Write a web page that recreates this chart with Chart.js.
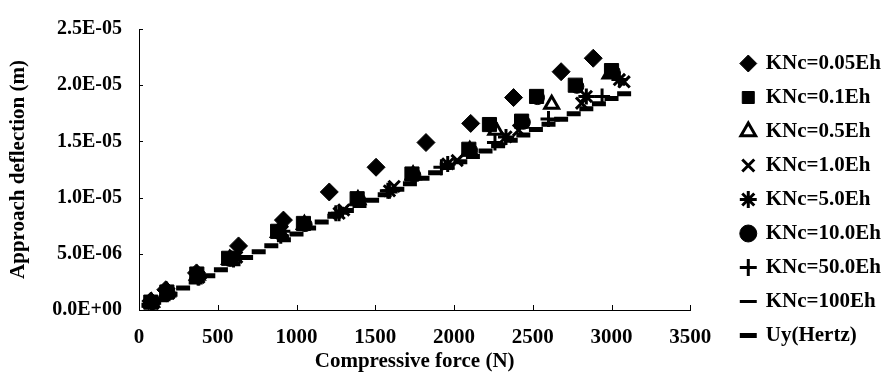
<!DOCTYPE html>
<html>
<head>
<meta charset="utf-8">
<script src="https://cdn.jsdelivr.net/npm/chart.js@4/dist/chart.umd.min.js"></script>
<style>
  html, body { margin: 0; padding: 0; background: #fff; }
  #wrap { width: 887px; height: 387px; position: relative; }
</style>
</head>
<body>
<div id="wrap"><canvas id="c" width="887" height="387"></canvas></div>
<script>
// ---- data (force in N, deflection in m) ----
const seriesNames = ['KNc=0.05Eh', 'KNc=0.1Eh', 'KNc=0.5Eh', 'KNc=1.0Eh', 'KNc=5.0Eh',
                     'KNc=10.0Eh', 'KNc=50.0Eh', 'KNc=100Eh', 'Uy(Hertz)'];

const force005 = [75, 170, 365, 632, 917, 1208, 1505, 1822, 2106, 2378, 2680, 2884];
const defl005  = [0.8e-6, 1.8e-6, 3.3e-6, 5.7e-6, 8.0e-6, 10.5e-6, 12.7e-6, 14.9e-6, 16.6e-6, 18.9e-6, 21.2e-6, 22.4e-6];

const force01 = [75, 177, 367, 569, 880, 1044, 1385, 1733, 2094, 2225, 2429, 2524, 2770, 3000];
const defl01  = [0.7e-6, 1.6e-6, 3.2e-6, 4.6e-6, 7.0e-6, 7.7e-6, 9.9e-6, 12.1e-6, 14.3e-6, 16.5e-6, 16.8e-6, 19.0e-6, 20.0e-6, 21.3e-6];

const force05 = [80, 180, 370, 575, 885, 1050, 1390, 1740, 2100, 2265, 2620, 2990];
const defl05  = [0.7e-6, 1.6e-6, 3.1e-6, 4.5e-6, 6.9e-6, 7.6e-6, 9.8e-6, 12.0e-6, 14.2e-6, 16.0e-6, 18.3e-6, 21.0e-6];

const force1 = [85, 185, 375, 610, 905, 1300, 1620, 2020, 2410, 2810, 3080];
const defl1  = [0.7e-6, 1.5e-6, 3.0e-6, 4.8e-6, 7.1e-6, 8.9e-6, 11.0e-6, 13.3e-6, 16.0e-6, 18.4e-6, 20.3e-6];

const force5 = [90, 190, 380, 620, 910, 1270, 1590, 1960, 2330, 2840, 3050];
const defl5  = [0.6e-6, 1.5e-6, 2.9e-6, 4.7e-6, 7.0e-6, 8.6e-6, 10.6e-6, 13.0e-6, 15.4e-6, 19.0e-6, 20.5e-6];

const force10 = [85, 185, 375, 580, 890, 1055, 1395, 1745, 2105, 2235, 2440, 2530, 2780, 3010];
const defl10  = [0.7e-6, 1.5e-6, 3.1e-6, 4.5e-6, 6.9e-6, 7.6e-6, 9.8e-6, 12.0e-6, 14.2e-6, 16.4e-6, 16.7e-6, 18.9e-6, 19.9e-6, 21.2e-6];

const force50 = [85, 180, 375, 600, 900, 1250, 1580, 1920, 2260, 2600, 2940];
const defl50  = [0.6e-6, 1.4e-6, 2.9e-6, 4.5e-6, 6.6e-6, 8.6e-6, 10.6e-6, 12.7e-6, 14.9e-6, 17.0e-6, 19.0e-6];

const force100 = [90, 190, 385, 620, 920, 1270, 1610, 1950, 2300, 2640, 2990];
const defl100  = [0.6e-6, 1.4e-6, 2.8e-6, 4.5e-6, 6.5e-6, 8.5e-6, 10.5e-6, 12.6e-6, 14.8e-6, 16.9e-6, 18.9e-6];

const forceHertz = [60, 130, 200, 280, 360, 440, 520, 600, 680, 760, 840, 920, 1000, 1080, 1160,
                    1240, 1320, 1400, 1480, 1560, 1640, 1720, 1800, 1880, 1960, 2040, 2120, 2200,
                    2280, 2360, 2440, 2520, 2600, 2680, 2760, 2840, 2920, 3000, 3080];
const deflHertz  = [0.43e-6, 0.92e-6, 1.40e-6, 1.95e-6, 2.50e-6, 3.05e-6, 3.58e-6, 4.12e-6, 4.66e-6,
                    5.19e-6, 5.72e-6, 6.25e-6, 6.77e-6, 7.30e-6, 7.83e-6, 8.35e-6, 8.85e-6, 9.30e-6,
                    9.76e-6, 10.25e-6, 10.74e-6, 11.23e-6, 11.72e-6, 12.20e-6, 12.70e-6, 13.18e-6,
                    13.66e-6, 14.14e-6, 14.62e-6, 15.10e-6, 15.57e-6, 16.05e-6, 16.52e-6, 16.98e-6,
                    17.45e-6, 17.91e-6, 18.36e-6, 18.81e-6, 19.25e-6];

const xTicks = [0, 500, 1000, 1500, 2000, 2500, 3000, 3500];
const yTicks = [0, 5e-6, 1e-5, 1.5e-5, 2e-5, 2.5e-5];

// ---- build datasets ----
function pts(fs, ds) { return fs.map((f, i) => ({ x: f, y: ds[i] })); }

const forces = [force005, force01, force05, force1, force5, force10, force50, force100, forceHertz];
const defls  = [defl005, defl01, defl05, defl1, defl5, defl10, defl50, defl100, deflHertz];
const styles = [
  { pointStyle: 'rectRot',  pointRadius: 9, bg: '#000', bw: 1 },
  { pointStyle: 'rect',     pointRadius: 10, bg: '#000', bw: 1 },
  { pointStyle: 'triangle', pointRadius: 8, bg: '#fff', bw: 3 },
  { pointStyle: 'crossRot', pointRadius: 8, bg: '#000', bw: 3 },
  { pointStyle: 'star',     pointRadius: 8, bg: '#000', bw: 3 },
  { pointStyle: 'circle',   pointRadius: 7, bg: '#000', bw: 1 },
  { pointStyle: 'cross',    pointRadius: 8, bg: '#000', bw: 3 },
  { pointStyle: 'line',     pointRadius: 5, bg: '#000', bw: 3 },
  { pointStyle: 'line',     pointRadius: 7, bg: '#000', bw: 5 }
];

const datasets = seriesNames.map((name, i) => ({
  label: name,
  data: pts(forces[i], defls[i]),
  showLine: false,
  pointStyle: styles[i].pointStyle,
  pointRadius: styles[i].pointRadius,
  pointHoverRadius: styles[i].pointRadius,
  backgroundColor: styles[i].bg,
  borderColor: '#000',
  borderWidth: styles[i].bw,
  pointBorderWidth: styles[i].bw
}));

const FONT = '"Liberation Serif", "Times New Roman", serif';

function fmtE(v) {
  const s = Number(v).toExponential(1);        // e.g. 2.5e-5
  const m = s.split('e');
  const sign = m[1][0] === '-' ? '-' : '+';
  const digits = m[1].replace('+', '').replace('-', '');
  return m[0] + 'E' + sign + (digits.length < 2 ? '0' + digits : digits);
}

const innerTicks = {
  id: 'innerTicks',
  afterDraw(chart) {
    const { ctx, chartArea: a } = chart;
    const xs = chart.scales.x, ys = chart.scales.y;
    ctx.save();
    ctx.strokeStyle = '#000';
    ctx.lineWidth = 1;
    xTicks.forEach(v => {
      const px = Math.round(xs.getPixelForValue(v)) + 0.5;
      ctx.beginPath(); ctx.moveTo(px, a.bottom); ctx.lineTo(px, a.bottom - 5); ctx.stroke();
    });
    yTicks.forEach(v => {
      const py = Math.round(ys.getPixelForValue(v)) + 0.5;
      ctx.beginPath(); ctx.moveTo(a.left, py); ctx.lineTo(a.left + 4, py); ctx.stroke();
    });
    ctx.restore();
  }
};

new Chart(document.getElementById('c'), {
  type: 'scatter',
  data: { datasets },
  plugins: [innerTicks],
  options: {
    responsive: false,
    animation: false,
    events: [],
    layout: { padding: { left: 4, top: 25, right: -4, bottom: 13 } },
    plugins: {
      tooltip: { enabled: false },
      legend: {
        position: 'right',
        align: 'center',
        maxWidth: 220,
        labels: {
          usePointStyle: true,
          boxWidth: 14,
          boxHeight: 12,
          padding: 13,
          color: '#000',
          font: { family: FONT, size: 21, weight: 'bold' }
        }
      }
    },
    scales: {
      x: {
        type: 'linear',
        min: 0, max: 3500,
        afterBuildTicks: s => { s.ticks = xTicks.map(v => ({ value: v })); },
        ticks: { color: '#000', padding: 15, font: { family: FONT, size: 21, weight: 'bold' }, maxRotation: 0,
                 callback: v => String(v) },
        grid: { display: true, drawOnChartArea: false, drawTicks: false },
        border: { display: true, color: '#000', width: 1 },
        title: { display: true, text: 'Compressive force (N)', color: '#000', padding: { top: 4, bottom: 0 },
                 font: { family: FONT, size: 21, weight: 'bold' } },
        afterFit: s => { s.height = 64; }
      },
      y: {
        type: 'linear',
        min: 0, max: 2.5e-5,
        afterBuildTicks: s => { s.ticks = yTicks.map(v => ({ value: v })); },
        ticks: { color: '#000', padding: 17, font: { family: FONT, size: 20, weight: 'bold' },
                 callback: v => fmtE(v) },
        grid: { display: true, drawOnChartArea: false, drawTicks: false },
        border: { display: true, color: '#000', width: 1 },
        title: { display: true, text: 'Approach deflection (m)', color: '#000', padding: { top: 2, bottom: 4 },
                 font: { family: FONT, size: 21, weight: 'bold' } },
        afterFit: s => { s.width = 135; }
      },
      gap: {
        type: 'linear',
        position: 'right',
        display: true,
        ticks: { display: false },
        grid: { display: false, drawTicks: false },
        border: { display: false },
        title: { display: false },
        afterFit: s => { s.width = 38; }
      }
    }
  }
});
</script>
</body>
</html>
